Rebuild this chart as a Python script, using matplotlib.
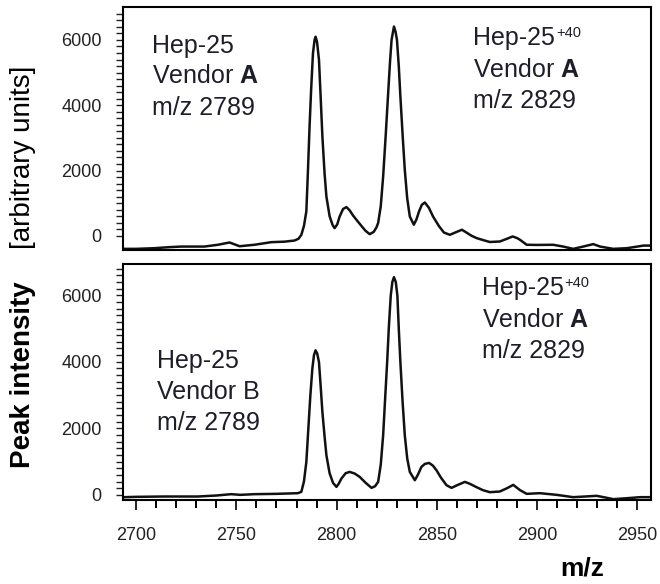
import numpy as np
import matplotlib
matplotlib.use("Agg")
import matplotlib.pyplot as plt
from matplotlib.ticker import FixedLocator, MultipleLocator

plt.rcParams["font.family"] = ["Liberation Sans", "DejaVu Sans"]
plt.rcParams["mathtext.fontset"] = "custom"
plt.rcParams["mathtext.rm"] = "Liberation Sans"
plt.rcParams["mathtext.bf"] = "Liberation Sans:bold"

# spectra (m/z, peak intensity)
mz_top = [2694, 2700, 2709, 2716, 2722.5, 2734, 2740.8, 2746.6, 2751.6, 2759,
          2767.4, 2774, 2779, 2781, 2782.4, 2783.7, 2784.9, 2785.7, 2786.5, 2787.3,
          2788.2, 2789, 2789.5, 2790.2, 2791.2, 2792, 2792.9, 2794, 2794.9, 2796.5,
          2798, 2799, 2800.3, 2801.5, 2803.2, 2804.9, 2806.5, 2808.2, 2809.9, 2812,
          2814.3, 2816.5, 2818.5, 2819.8, 2820.7, 2822, 2823.2, 2824.5, 2825.7, 2826.6,
          2827.4, 2828.6, 2829.4, 2830.1, 2831, 2831.8, 2833, 2834, 2835.2, 2836.5,
          2838.5, 2839.8, 2841.1, 2842.5, 2844, 2846, 2848.1, 2851, 2853.5, 2856.5,
          2859.5, 2862.5, 2865, 2867.3, 2869.8, 2873, 2876.4, 2881.4, 2885, 2887.8,
          2890, 2891.4, 2894.8, 2900, 2908, 2913, 2918, 2923, 2928, 2931.4,
          2938, 2944.7, 2950, 2953, 2957]
int_top = [-400, -400, -380, -350, -330, -330, -275, -205, -320, -275,
           -195, -180, -145, -90, 30, 300, 750, 2000, 3350, 4500,
           5590, 6000, 6100, 5950, 5390, 4300, 3040, 1900, 1200, 600,
           330, 235, 350, 590, 820, 880, 780, 620, 490, 330,
           160, 50, 120, 250, 390, 900, 1815, 3100, 4370, 5300,
           6000, 6410, 6250, 6000, 5200, 4270, 3000, 2020, 1150, 590,
           340, 500, 745, 950, 1020, 860, 590, 300, 100, 30,
           110, 185, 90, 0, -70, -130, -190, -175, -90, -20,
           -70, -120, -275, -280, -275, -330, -400, -330, -255, -330,
           -400, -380, -330, -300, -300]

mz_bot = [2694, 2700, 2714, 2730.8, 2740, 2747.4, 2752, 2759, 2770, 2780.7,
          2782.4, 2783.7, 2784.9, 2785.9, 2786.9, 2787.9, 2788.7, 2789.5, 2790.3, 2791.2,
          2792, 2792.9, 2794, 2794.9, 2796.5, 2798.2, 2799.9, 2801, 2802.4, 2804.5,
          2806.5, 2809, 2811.5, 2814.5, 2817.4, 2819.2, 2820.7, 2822, 2823.2, 2824.2,
          2825.2, 2826.1, 2827, 2827.8, 2828.6, 2829.5, 2830.3, 2831, 2831.8, 2832.9,
          2834, 2835.2, 2836.5, 2839, 2840.5, 2842.3, 2844, 2846.1, 2848, 2849.8,
          2852, 2854.8, 2857.3, 2860.5, 2864, 2866.5, 2869.8, 2873, 2876.4, 2881.4,
          2885, 2888.1, 2891.5, 2894.8, 2901.4, 2909.7, 2918, 2924, 2929.7, 2934,
          2938, 2945, 2951.4, 2957]
int_bot = [-70, -60, -50, -50, -20, 20, 0, 20, 30, 50,
           90, 400, 990, 2000, 2990, 3800, 4200, 4345, 4250, 3990,
           3300, 2490, 1750, 1190, 650, 360, 240, 330, 490, 650,
           690, 640, 540, 360, 210, 260, 390, 900, 1790, 2900,
           3990, 5100, 5995, 6400, 6545, 6400, 5995, 5000, 3990, 2800,
           1790, 1100, 690, 440, 600, 840, 930, 960, 880, 740,
           520, 290, 210, 300, 390, 330, 230, 140, 80, 100,
           200, 300, 140, 30, 50, 0, -70, -50, -30, -80,
           -130, -100, -70, -70]

ytick_vals = [0, 2000, 4000, 6000]
xtick_vals = [2700, 2750, 2800, 2850, 2900, 2950]

W, H = 660, 584
fig = plt.figure(figsize=(W / 100, H / 100), dpi=100)


def fx(px):
    return px / W


def fy(py):
    return 1 - py / H


ax1 = fig.add_axes([fx(122.7), fy(249.5), fx(651) - fx(122.7), (249.5 - 7.3) / H])
ax2 = fig.add_axes([fx(122.7), fy(499.5), fx(651) - fx(122.7), (499.5 - 264) / H])

ink = "#111111"
ax1.plot(mz_top, int_top, color=ink, lw=1.8)
ax2.plot(mz_bot, int_bot, color=ink, lw=1.8)

ax1.set_ylim(-420, 7000)
ax2.set_ylim(-140, 6940)

for ax in (ax1, ax2):
    ax.set_xlim(2693.3, 2956.8)
    for s in ax.spines.values():
        s.set_linewidth(1.5)
        s.set_color("black")
    ax.yaxis.set_major_locator(FixedLocator(ytick_vals))
    ax.yaxis.set_minor_locator(FixedLocator(np.arange(0, 6900, 200)))
    ax.tick_params(axis="y", which="both", direction="out", length=5, width=1.0,
                   pad=10, labelsize=13, colors="#222222")

ax1.tick_params(axis="x", which="both", bottom=False, labelbottom=False)
ax2.xaxis.set_major_locator(FixedLocator(xtick_vals))
ax2.xaxis.set_minor_locator(MultipleLocator(10))
ax2.tick_params(axis="x", which="major", direction="out", length=7.5, width=1.4,
                pad=12, labelsize=13, colors="#222222")
ax2.tick_params(axis="x", which="minor", direction="out", length=5.5, width=1.4)

# annotations (left x, baseline y in pixels); "^" marks a small raised "+40"
tc = "#1e1e2a"
fs = 18
blocks = [
    (152, [52.7, 83.3, 115], ["Hep-25", r"Vendor $\mathbf{A}$", "m/z 2789"]),
    (473, [45, 77, 108.5], ["Hep-25^", r"Vendor $\mathbf{A}$", "m/z 2829"]),
    (156.7, [368, 399, 430], ["Hep-25", "Vendor B", "m/z 2789"]),
    (481.7, [295, 326.7, 358.3], ["Hep-25^", r"Vendor $\mathbf{A}$", "m/z 2829"]),
]
renderer = fig.canvas.get_renderer()
for x0, ys, lines in blocks:
    for yb, s in zip(ys, lines):
        sup = s.endswith("^")
        t = fig.text(fx(x0), fy(yb), s.rstrip("^"), fontsize=fs, color=tc,
                     ha="left", va="baseline")
        if sup:
            bb = t.get_window_extent(renderer)
            fig.text(fx(x0 + bb.width + 1), fy(yb - 8), "+40", fontsize=10.5,
                     color=tc, ha="left", va="baseline")

fig.text(fx(23.5), fy(468), "Peak intensity", rotation=90, fontsize=20,
         fontweight="bold", ha="center", va="bottom", color="black")
fig.text(fx(23.5), fy(66), "[arbitrary units]", rotation=90, fontsize=20,
         ha="center", va="top", color="black")
fig.text(fx(582), fy(576), "m/z", fontsize=19, fontweight="bold",
         ha="center", va="baseline", color="black")

fig.savefig("out.png", dpi=100)
